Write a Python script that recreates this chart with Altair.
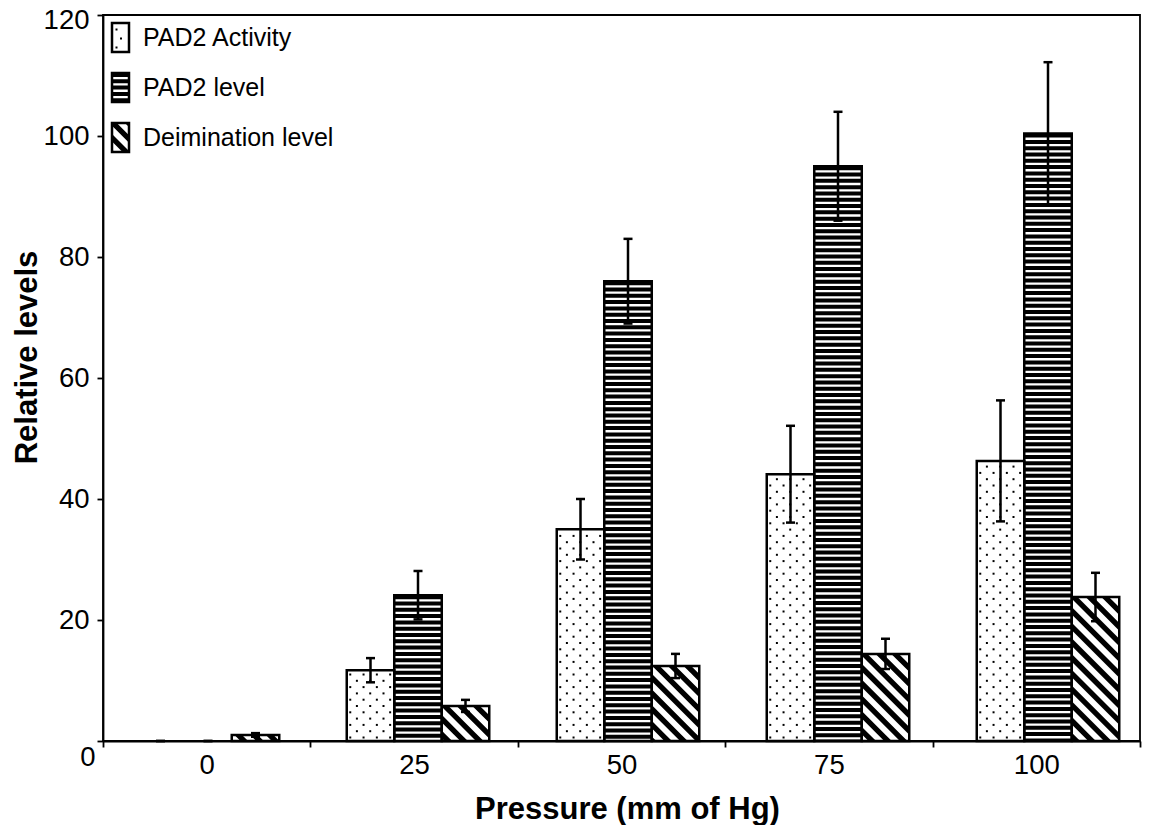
import json
import numpy as np
import pandas as pd
import altair as alt

# ---------------- data ----------------
pressures = ["0", "25", "50", "75", "100"]
series = ["PAD2 Activity", "PAD2 level", "Deimination level"]
activity = [0.0, 11.7, 35.0, 44.1, 46.3]
activity_err = [0.0, 2.0, 5.0, 8.0, 10.0]
pad2_level = [0.0, 24.1, 76.0, 95.0, 100.4]
pad2_level_err = [0.0, 4.0, 7.0, 9.0, 11.8]
deimination = [1.0, 5.8, 12.4, 14.4, 23.8]
deimination_err = [0.3, 1.0, 2.0, 2.5, 4.0]
y_ticks = [0, 20, 40, 60, 80, 100, 120]

# ---------------- layout / style ----------------
W, H = 1037, 726
YMAX = 120
NG = len(pressures)
GROUP_PX = 210.0                 # spacing of bar groups (px)
AXIS_STEP_PX = W / NG            # spacing of category ticks / labels (px)
XMAX = W / GROUP_PX              # x domain in "group" units
STEP = AXIS_STEP_PX / GROUP_PX   # category tick spacing in group units
BW = 47.5 / GROUP_PX             # bar width in group units
SX = GROUP_PX                    # px per x unit
SY = H / YMAX                    # px per y unit
FONT = "Liberation Sans"

vals = [activity, pad2_level, deimination]
errs = [activity_err, pad2_level_err, deimination_err]

rows = []
for g, p in enumerate(pressures):
    for i, s in enumerate(series):
        c = g + 0.5 + (i - 1) * BW
        v, e = vals[i][g], errs[i][g]
        rows.append(dict(pressure=p, series=s, idx=i, g=g, c=c,
                         x0=c - BW / 2, x1=c + BW / 2,
                         value=v, err=e, lo=v - e, hi=v + e))
bars = pd.DataFrame(rows)


def hatch_bands(X0, X1, Ytop, Ybot, period=15.7, thick=7.6):
    """Diagonal '\\' bands clipped to a pixel rectangle (Y grows downward)."""
    out = []
    cmin = Ytop - X1 - thick
    cmax = Ybot - X0
    for k in range(int(np.floor(cmin / period)), int(np.ceil(cmax / period)) + 1):
        c = k * period
        xs = {X0, X1}
        for b in (Ytop - c, Ybot - c, Ytop - c - thick, Ybot - c - thick):
            if X0 < b < X1:
                xs.add(b)
        pts = []
        for X in sorted(xs):
            up = min(max(X + c, Ytop), Ybot)
            lo = min(max(X + c + thick, Ytop), Ybot)
            pts.append((X, up, lo))
        if any(lo - up > 1e-6 for _, up, lo in pts):
            out.append(pts)
    return out


def dot_grid(X0, X1, Ytop, Ybot, dx=13.3, dy=6.3, inset=3.5):
    pts = []
    r = 0
    Y = Ybot - inset
    while Y > Ytop + inset - 0.5:
        X = X0 + inset + (r % 2) * dx / 2
        while X < X1 - inset + 0.5:
            pts.append((X, Y))
            X += dx
        r += 1
        Y -= dy
    return pts


# pattern data for bars (derived from the bar table)
hatch_rows, dot_rows = [], []
for _, b in bars.iterrows():
    if b.value <= 0:
        continue
    X0, X1 = b.x0 * SX, b.x1 * SX
    Ytop, Ybot = H - b.value * SY, H
    if b.idx == 2:
        for j, band in enumerate(hatch_bands(X0, X1, Ytop, Ybot)):
            for X, up, lo in band:
                hatch_rows.append(dict(band=f"{b.g}-{j}", x=X / SX,
                                       y=(H - up) / SY, y2=(H - lo) / SY))
    elif b.idx == 0:
        for X, Y in dot_grid(X0, X1, Ytop, Ybot):
            dot_rows.append(dict(x=X / SX, y=(H - Y) / SY))
hatch = pd.DataFrame(hatch_rows)
dots = pd.DataFrame(dot_rows)

# legend (pixel space, relative to the plot origin)
LEG_X0, LEG_X1 = 9, 26
leg_rows = []
for i, s in enumerate(series):
    cy = 22.5 + i * 50
    leg_rows.append(dict(series=s, idx=i, x0=LEG_X0, x1=LEG_X1, cx=(LEG_X0 + LEG_X1) / 2,
                         y0=cy - 14.5, y1=cy + 14.5, cy=cy, tx=40))
legend = pd.DataFrame(leg_rows)
leg_hatch_rows, leg_dot_rows = [], []
for _, r in legend.iterrows():
    if r.idx == 2:
        for j, band in enumerate(hatch_bands(r.x0, r.x1, r.y0, r.y1)):
            for X, up, lo in band:
                leg_hatch_rows.append(dict(band=f"L{j}", x=X, y=up, y2=lo))
    elif r.idx == 0:
        for X, Y in dot_grid(r.x0, r.x1, r.y0, r.y1, dx=9, dy=9, inset=4.5):
            leg_dot_rows.append(dict(x=X, y=Y))
leg_hatch = pd.DataFrame(leg_hatch_rows)
leg_dots = pd.DataFrame(leg_dot_rows)

# ---------------- scales / axes ----------------
xscale = alt.Scale(domain=[0, XMAX], nice=False, zero=False)
yscale = alt.Scale(domain=[0, YMAX], nice=False, zero=True)

x_axis = alt.Axis(
    values=[k * STEP for k in range(NG + 1)],
    labelExpr=(f"round(datum.value / {STEP}) < {NG} ? "
               f"{json.dumps(pressures)}[round(datum.value / {STEP})] : ''"),
    labelOffset=AXIS_STEP_PX / 2, labelFlush=False, labelOverlap=False,
    tickSize=6, labelPadding=4, labelFontSize=27.5,
    title="Pressure (mm of Hg)", titleFontSize=31, titleFontWeight="bold",
    titleX=524, titleY=77, titleBaseline="alphabetic",
)
y_axis = alt.Axis(
    values=y_ticks, tickSize=6, labelFontSize=27.5,
    labelOffset={"condition": [{"test": "datum.value == 0", "value": 16},
                               {"test": "datum.value == 120", "value": 5}], "value": 0},
    labelPadding={"condition": {"test": "datum.value == 0", "value": 2}, "value": 8},
    title="Relative levels", titleFontSize=31, titleFontWeight="bold",
    titleX=-76, titleY=342, titleBaseline="middle", titleAngle=-90,
)


def X(field, **kw):
    return alt.X(field, type="quantitative", scale=xscale, axis=x_axis, **kw)


def Y(field, **kw):
    return alt.Y(field, type="quantitative", scale=yscale, axis=y_axis, **kw)


base = alt.Chart(bars)
pos = base.transform_filter("datum.value > 0")

stripes = pos.transform_filter("datum.idx == 1").mark_rule(
    color="black", strokeWidth=BW * SX, strokeDash=[4, 2.3], strokeCap="butt"
).encode(x=X("c"), y=Y("value"), y2=alt.Y2("zero:Q")).transform_calculate(zero="0")

hatch_layer = alt.Chart(hatch).mark_area(color="black", orient="vertical", interpolate="linear").encode(
    x=X("x"), y=Y("y"), y2=alt.Y2("y2"), detail="band:N"
)

dot_layer = alt.Chart(dots).mark_square(color="black", size=4, opacity=1).encode(
    x=X("x"), y=Y("y")
)

outline = pos.mark_rect(fill=None, stroke="black", strokeWidth=2.5, strokeJoin="miter").encode(
    x=X("x0"), x2=alt.X2("x1"), y=Y("value"), y2=alt.Y2("zero:Q")
).transform_calculate(zero="0")

err_line = base.mark_rule(color="black", strokeWidth=2.5).encode(
    x=X("c"), y=Y("lo"), y2=alt.Y2("hi")
)
cap_hi = base.mark_tick(color="black", orient="horizontal", size=9, thickness=2.5, opacity=1).encode(
    x=X("c"), y=Y("hi")
)
cap_lo = base.mark_tick(color="black", orient="horizontal", size=9, thickness=2.5, opacity=1).encode(
    x=X("c"), y=Y("lo")
)

# legend layers (pixel coordinates)
PX = lambda f: alt.X(f, type="quantitative", scale=None, axis=None)
PY = lambda f: alt.Y(f, type="quantitative", scale=None, axis=None)

leg = alt.Chart(legend)
leg_stripes = leg.transform_filter("datum.idx == 1").mark_rule(
    color="black", strokeWidth=LEG_X1 - LEG_X0, strokeDash=[4, 2.3], strokeCap="butt"
).encode(x=PX("cx"), y=PY("y0"), y2=alt.Y2("y1"))
leg_hatch_layer = alt.Chart(leg_hatch).mark_area(color="black", orient="vertical").encode(
    x=PX("x"), y=PY("y"), y2=alt.Y2("y2"), detail="band:N"
)
leg_dot_layer = alt.Chart(leg_dots).mark_square(color="black", size=4, opacity=1).encode(
    x=PX("x"), y=PY("y")
)
leg_box = leg.mark_rect(fill=None, stroke="black", strokeWidth=2.5).encode(
    x=PX("x0"), x2=alt.X2("x1"), y=PY("y0"), y2=alt.Y2("y1")
)
leg_text = leg.mark_text(align="left", baseline="middle", fontSize=25, font=FONT, color="black").encode(
    x=PX("tx"), y=PY("cy"), text="series:N"
)

chart = alt.layer(
    stripes, hatch_layer, dot_layer, outline, err_line, cap_hi, cap_lo,
    leg_stripes, leg_hatch_layer, leg_dot_layer, leg_box, leg_text,
).properties(
    width=W, height=H,
    autosize=alt.AutoSizeParams(type="none"),
    padding={"left": 95, "top": 7, "right": 6, "bottom": 84},
    background="white",
).configure_view(
    stroke="black", strokeWidth=1.8
).configure_axis(
    grid=False, domainColor="black", tickColor="black", labelColor="black",
    titleColor="black", labelFont=FONT, titleFont=FONT, domainWidth=1.8, tickWidth=1.8,
)

chart.save("out.html", embed_options={"renderer": "svg", "actions": False})
